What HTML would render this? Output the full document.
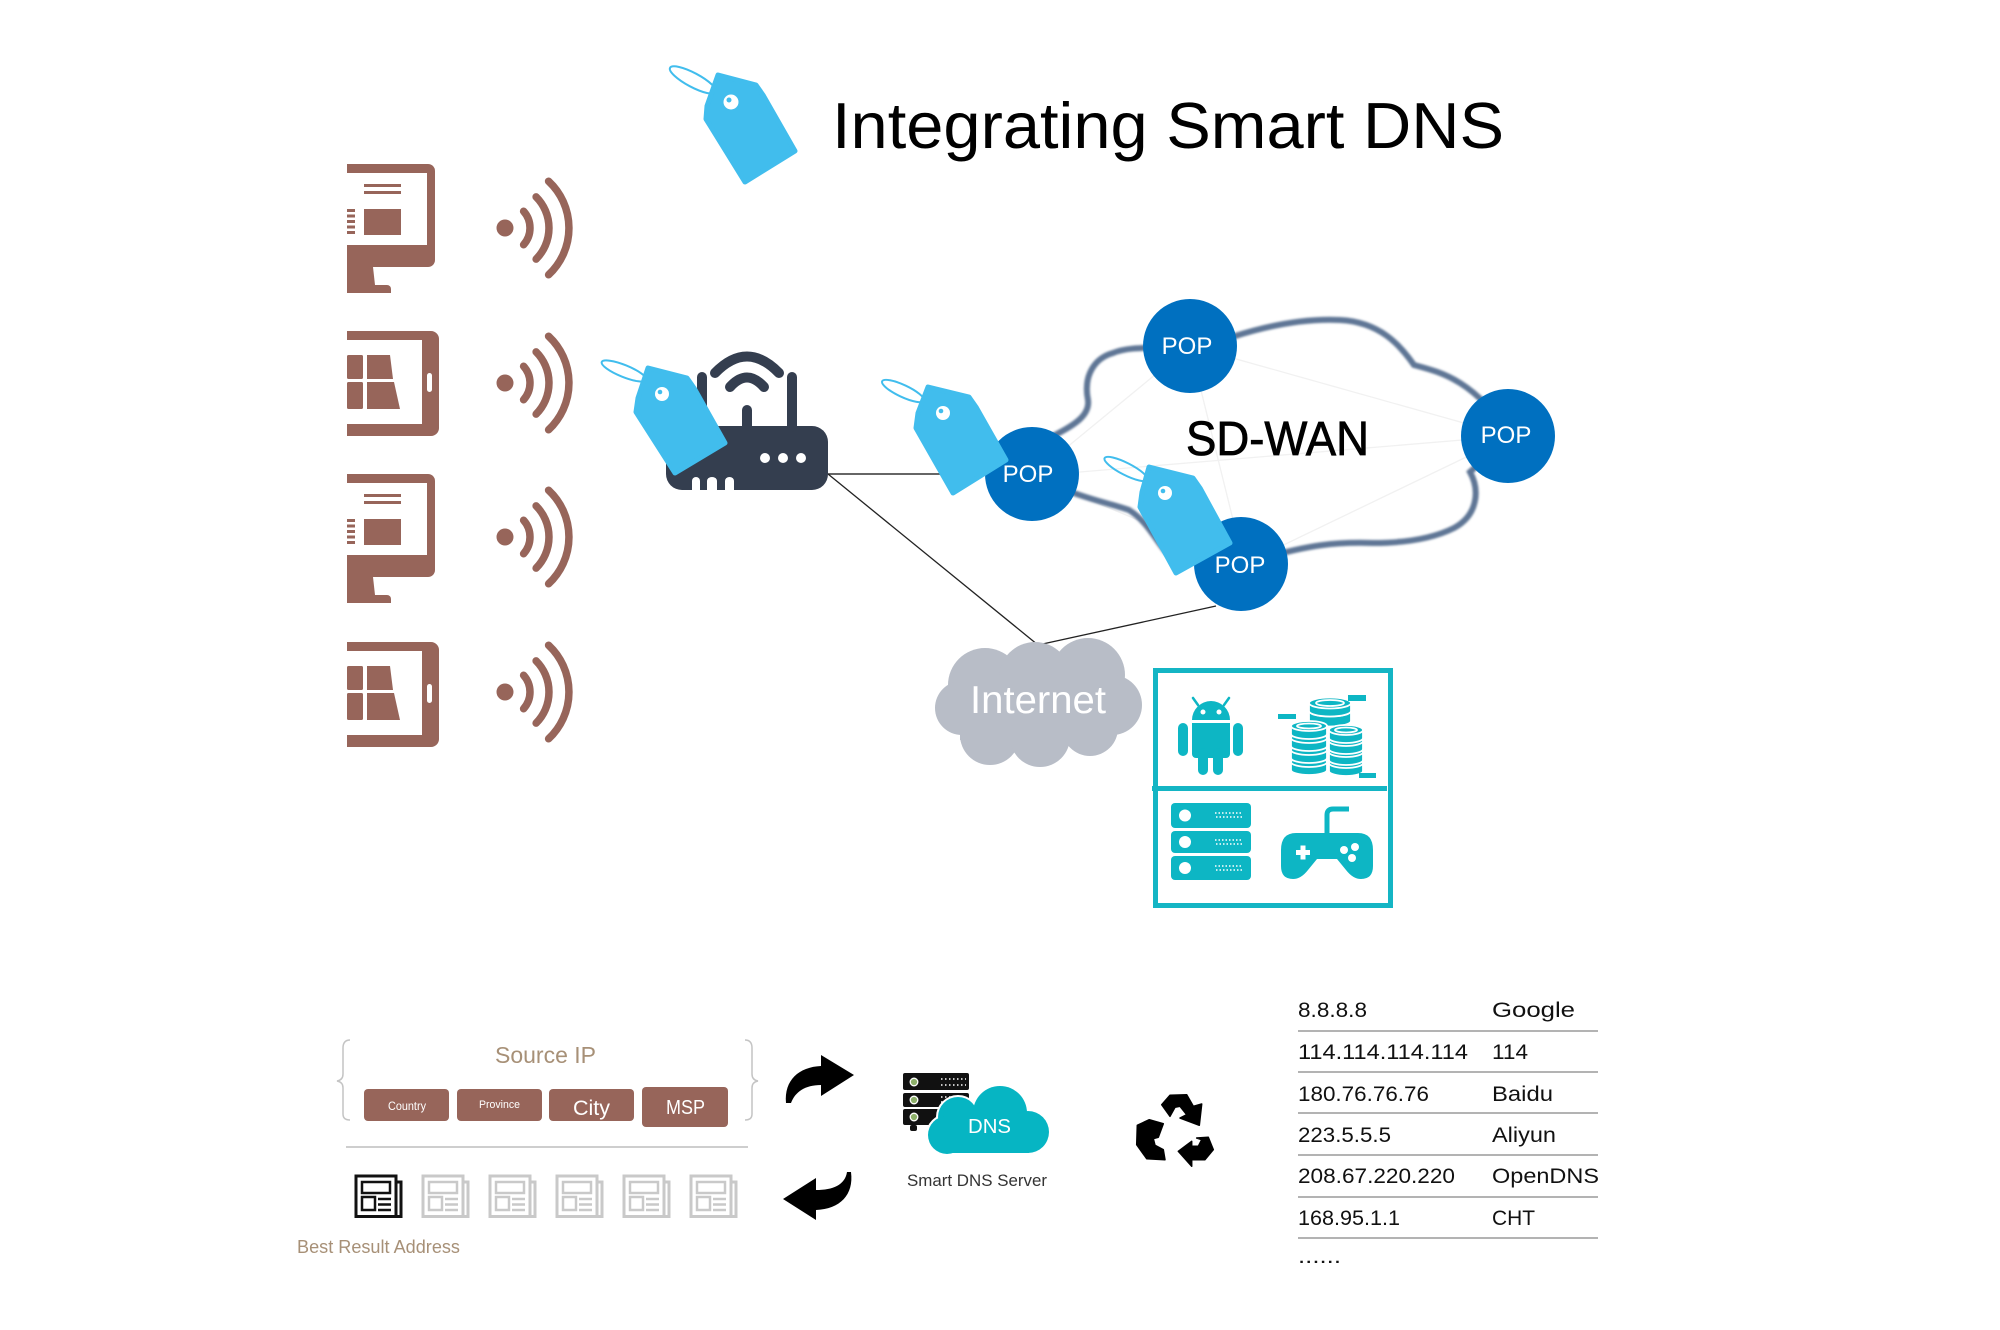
<!DOCTYPE html>
<html>
<head>
<meta charset="utf-8">
<style>
html,body{margin:0;padding:0;background:#fff;}
svg{display:block;}
text{font-family:"Liberation Sans",sans-serif;}
</style>
</head>
<body>
<svg xmlns="http://www.w3.org/2000/svg" xmlns:xlink="http://www.w3.org/1999/xlink" width="2000" height="1330" viewBox="0 0 2000 1330">
<defs>
  <filter id="soft" x="-10%" y="-10%" width="120%" height="120%"><feGaussianBlur stdDeviation="1"/></filter>
  <g id="mon" fill="#97655A">
    <path d="M347,0 H428 A7,7 0 0 1 435,7 V96 A7,7 0 0 1 428,103 H347 Z"/>
    <rect x="347" y="9" width="80" height="72" fill="#fff"/>
    <rect x="364" y="20" width="37" height="3"/>
    <rect x="364" y="27" width="37" height="3"/>
    <rect x="364" y="45" width="37" height="26"/>
    <rect x="347" y="45" width="8" height="3"/>
    <rect x="347" y="50.5" width="8" height="3"/>
    <rect x="347" y="56" width="8" height="3"/>
    <rect x="347" y="61.5" width="8" height="3"/>
    <rect x="347" y="67" width="8" height="3"/>
    <polygon points="347,103 373,103 375,121 347,121"/>
    <path d="M347,121 H387 A4,4 0 0 1 391,125 V129 H347 Z"/>
  </g>
  <g id="tab" fill="#97655A">
    <path d="M347,0 H431 A8,8 0 0 1 439,8 V97 A8,8 0 0 1 431,105 H347 Z"/>
    <rect x="347" y="9" width="75" height="84" fill="#fff"/>
    <rect x="427" y="42" width="5" height="19" rx="2.5" fill="#fff"/>
    <rect x="347" y="24" width="16" height="24" rx="1.5"/>
    <polygon points="367,24 390,24 393,48 367,48"/>
    <rect x="347" y="51" width="16" height="27" rx="1.5"/>
    <polygon points="367,51 394,51 400,78 367,78"/>
  </g>
  <g id="wifi" fill="none" stroke="#97655A" stroke-width="7.5" stroke-linecap="round">
    <circle cx="505" cy="0" r="8.5" fill="#97655A" stroke="none"/>
    <path d="M523.6,-16.7 A25,25 0 0 1 523.6,16.7"/>
    <path d="M536.1,-31.1 A44,44 0 0 1 536.1,31.1"/>
    <path d="M548.6,-46.8 A64,64 0 0 1 548.6,46.8"/>
  </g>
  <g id="news" fill="none" stroke-width="3">
    <path d="M356,1176 H396 V1216.5 H356 Z M396,1182 H401 V1216.5 H396"/>
    <rect x="362" y="1182" width="28" height="11" stroke-width="2.5"/>
    <rect x="362" y="1197" width="13" height="13" stroke-width="2.5"/>
    <line x1="378" y1="1199" x2="391" y2="1199" stroke-width="2.5"/>
    <line x1="378" y1="1204.5" x2="391" y2="1204.5" stroke-width="2.5"/>
    <line x1="378" y1="1210" x2="391" y2="1210" stroke-width="2.5"/>
  </g>
</defs>

<!-- Title -->
<text x="832" y="148" font-size="65" fill="#000" textLength="672" lengthAdjust="spacingAndGlyphs">Integrating Smart DNS</text>

<!-- Title tag -->
<ellipse cx="693" cy="80" rx="26" ry="7" transform="rotate(28 693 80)" fill="none" stroke="#41BDED" stroke-width="2"/>
<polygon points="718,75 756,85 763,95 795,151 745,182 706,119 707,106" fill="#41BDED" stroke="#41BDED" stroke-width="5" stroke-linejoin="round"/>
<circle cx="731" cy="102" r="7.5" fill="#fff"/>
<circle cx="729" cy="100" r="2.5" fill="#41BDED"/>

<!-- Devices -->
<use xlink:href="#mon" transform="translate(0,164)"/>
<use xlink:href="#tab" transform="translate(0,331)"/>
<use xlink:href="#mon" transform="translate(0,474)"/>
<use xlink:href="#tab" transform="translate(0,642)"/>
<use xlink:href="#wifi" transform="translate(0,228)"/>
<use xlink:href="#wifi" transform="translate(0,383)"/>
<use xlink:href="#wifi" transform="translate(0,537)"/>
<use xlink:href="#wifi" transform="translate(0,692)"/>

<!-- faint lines in cloud -->
<g stroke="#f1f1f1" stroke-width="1.3" fill="none">
  <line x1="1032" y1="476" x2="1190" y2="346"/>
  <line x1="1032" y1="476" x2="1510" y2="436"/>
  <line x1="1032" y1="476" x2="1244" y2="564"/>
  <line x1="1190" y1="346" x2="1244" y2="564"/>
  <line x1="1190" y1="346" x2="1510" y2="436"/>
  <line x1="1244" y1="564" x2="1510" y2="436"/>
</g>

<!-- SD-WAN cloud outline -->
<path d="M1032,476 L1053,436 C1075,425 1090,415 1088,400 C1083,375 1095,358 1113,353 C1125,348 1135,348 1190,346 L1232,337 C1260,328 1300,318 1340,320 C1380,322 1400,345 1414,365 C1440,372 1475,380 1510,436 L1470,472 C1480,490 1478,515 1454,528 C1430,540 1400,543 1373,543 C1340,542 1310,543 1244,564 L1167,553 C1155,540 1148,522 1129,510 C1110,503 1085,500 1032,476 Z" fill="none" stroke="#5E7695" stroke-width="6" filter="url(#soft)"/>

<!-- connectors -->
<line x1="828" y1="474" x2="990" y2="474" stroke="#333" stroke-width="1.5"/>
<line x1="828" y1="474" x2="1038" y2="645" stroke="#222" stroke-width="1.3"/>
<line x1="1038" y1="645" x2="1216" y2="606" stroke="#222" stroke-width="1.3"/>

<!-- POPs -->
<g fill="#0070C0">
  <circle cx="1190" cy="346" r="47"/>
  <circle cx="1032" cy="474" r="47"/>
  <circle cx="1508" cy="436" r="47"/>
  <circle cx="1241" cy="564" r="47"/>
</g>

<!-- Router -->
<g fill="#343E4F">
  <rect x="666" y="426" width="162" height="64" rx="16"/>
  <rect x="697" y="372" width="10" height="60" rx="5"/>
  <rect x="787" y="372" width="10" height="60" rx="5"/>
  <rect x="742" y="405" width="10" height="26" rx="5"/>
</g>
<g fill="none" stroke="#343E4F" stroke-width="10" stroke-linecap="round">
  <path d="M715,373 Q747,340 779,373"/>
  <path d="M730,387 Q747,368 764,387"/>
</g>
<g fill="#fff">
  <circle cx="765" cy="458" r="5"/>
  <circle cx="783" cy="458" r="5"/>
  <circle cx="801" cy="458" r="5"/>
  <path d="M692,490 V481 A4,4 0 0 1 700,481 V490 Z"/>
  <path d="M707,490 V481 A5,4 0 0 1 717,481 V490 Z"/>
  <path d="M725,490 V481 A4.5,4 0 0 1 734,481 V490 Z"/>
</g>

<!-- Router tag -->
<ellipse cx="624" cy="371" rx="24" ry="6" transform="rotate(22 624 371)" fill="none" stroke="#41BDED" stroke-width="2"/>
<polygon points="648,368 687,378 694,388 725,443 675,473 636,412 638,398" fill="#41BDED" stroke="#41BDED" stroke-width="5" stroke-linejoin="round"/>
<circle cx="662" cy="394" r="7" fill="#fff"/>
<circle cx="660" cy="392" r="2.3" fill="#41BDED"/>

<!-- Left POP tag -->
<ellipse cx="903" cy="391" rx="23" ry="6" transform="rotate(25 903 391)" fill="none" stroke="#41BDED" stroke-width="2"/>
<polygon points="928,387 969,397 976,407 1006,460 953,493 916,428 918,413" fill="#41BDED" stroke="#41BDED" stroke-width="5" stroke-linejoin="round"/>
<circle cx="943" cy="413" r="7" fill="#fff"/>
<circle cx="941" cy="411" r="2.3" fill="#41BDED"/>

<!-- Bottom POP tag -->
<ellipse cx="1126" cy="469" rx="24" ry="6" transform="rotate(27 1126 469)" fill="none" stroke="#41BDED" stroke-width="2"/>
<polygon points="1149,467 1193,478 1200,488 1230,543 1176,573 1140,507 1142,492" fill="#41BDED" stroke="#41BDED" stroke-width="5" stroke-linejoin="round"/>
<circle cx="1165" cy="493" r="7" fill="#fff"/>
<circle cx="1163" cy="491" r="2.3" fill="#41BDED"/>

<!-- POP labels -->
<g fill="#fff" font-size="24" text-anchor="middle">
  <text x="1187" y="354">POP</text>
  <text x="1028" y="482">POP</text>
  <text x="1506" y="443">POP</text>
  <text x="1240" y="573">POP</text>
</g>

<!-- SD-WAN -->
<text x="1186" y="455" font-size="48" fill="#000" stroke="#000" stroke-width="0.8" textLength="183" lengthAdjust="spacingAndGlyphs">SD-WAN</text>

<!-- Internet cloud -->
<g fill="#B8BDC7">
  <circle cx="985" cy="685" r="37"/>
  <circle cx="1035" cy="678" r="36"/>
  <circle cx="1088" cy="675" r="37"/>
  <circle cx="1112" cy="705" r="30"/>
  <circle cx="962" cy="708" r="27"/>
  <circle cx="990" cy="735" r="30"/>
  <circle cx="1040" cy="737" r="30"/>
  <circle cx="1090" cy="728" r="28"/>
  <rect x="960" y="675" width="150" height="65"/>
</g>
<text x="970" y="713" font-size="39" fill="#fff" textLength="136" lengthAdjust="spacingAndGlyphs">Internet</text>

<!-- App box -->
<rect x="1155.5" y="670.5" width="235" height="235" fill="none" stroke="#14B5C4" stroke-width="5"/>
<rect x="1152" y="786" width="235" height="5" fill="#14B5C4"/>
<!-- android -->
<g fill="#0DB6C4">
  <path d="M1192,720 A19,19 0 0 1 1230,720 Z"/>
  <line x1="1198" y1="705" x2="1193" y2="698" stroke="#0DB6C4" stroke-width="2.5" stroke-linecap="round"/>
  <line x1="1224" y1="705" x2="1229" y2="698" stroke="#0DB6C4" stroke-width="2.5" stroke-linecap="round"/>
  <path d="M1192,723 H1230 V754 A4,4 0 0 1 1226,758 H1196 A4,4 0 0 1 1192,754 Z"/>
  <rect x="1178" y="723" width="10" height="33" rx="5"/>
  <rect x="1233" y="723" width="10" height="33" rx="5"/>
  <rect x="1198" y="748" width="10" height="27" rx="5"/>
  <rect x="1213" y="748" width="10" height="27" rx="5"/>
  <circle cx="1203" cy="712" r="2.5" fill="#fff"/>
  <circle cx="1219" cy="712" r="2.5" fill="#fff"/>
</g>
<!-- coins -->
<g fill="#0DB6C4" stroke="#fff" stroke-width="1.8">
  <path d="M1309,711 v10 a21,5.5 0 0 0 42,0 v-10 z"/>
  <ellipse cx="1330" cy="711" rx="21" ry="5.5"/>
  <path d="M1309,703 v8 a21,5.5 0 0 0 42,0 v-8 z"/>
  <ellipse cx="1330" cy="703" rx="21" ry="5.5"/>
  <ellipse cx="1330" cy="703" rx="14" ry="3" fill="none"/>

  <path d="M1291,762 v8 a18,5 0 0 0 36,0 v-8 z"/>
  <ellipse cx="1309" cy="762" rx="18" ry="5"/>
  <path d="M1291,750 v8 a18,5 0 0 0 36,0 v-8 z"/>
  <ellipse cx="1309" cy="750" rx="18" ry="5"/>
  <path d="M1291,738 v8 a18,5 0 0 0 36,0 v-8 z"/>
  <ellipse cx="1309" cy="738" rx="18" ry="5"/>
  <path d="M1291,726 v8 a18,5 0 0 0 36,0 v-8 z"/>
  <ellipse cx="1309" cy="726" rx="18" ry="5"/>
  <ellipse cx="1309" cy="726" rx="12" ry="2.5" fill="none"/>

  <path d="M1329,763 v8 a17,5 0 0 0 34,0 v-8 z"/>
  <ellipse cx="1346" cy="763" rx="17" ry="5"/>
  <path d="M1329,752 v8 a17,5 0 0 0 34,0 v-8 z"/>
  <ellipse cx="1346" cy="752" rx="17" ry="5"/>
  <path d="M1329,741 v8 a17,5 0 0 0 34,0 v-8 z"/>
  <ellipse cx="1346" cy="741" rx="17" ry="5"/>
  <path d="M1329,730 v8 a17,5 0 0 0 34,0 v-8 z"/>
  <ellipse cx="1346" cy="730" rx="17" ry="5"/>
  <ellipse cx="1346" cy="730" rx="11" ry="2.5" fill="none"/>
</g>
<g fill="#0DB6C4">
  <rect x="1278" y="714" width="18" height="5"/>
  <rect x="1348" y="695" width="18" height="6"/>
  <rect x="1359" y="773" width="17" height="5"/>
</g>
<!-- servers -->
<g fill="#0DB6C4">
  <rect x="1171" y="803" width="80" height="25" rx="4"/>
  <rect x="1171" y="831" width="80" height="22" rx="4"/>
  <rect x="1171" y="856" width="80" height="24" rx="4"/>
</g>
<g fill="#fff">
  <circle cx="1185" cy="815.5" r="6"/>
  <circle cx="1185" cy="842" r="6"/>
  <circle cx="1185" cy="868" r="6"/>
</g>
<g stroke="#fff" stroke-width="1.5" stroke-dasharray="1.5 2" fill="none">
  <line x1="1215" y1="813" x2="1242" y2="813"/>
  <line x1="1216" y1="817" x2="1242" y2="817"/>
  <line x1="1215" y1="840" x2="1242" y2="840"/>
  <line x1="1216" y1="844" x2="1242" y2="844"/>
  <line x1="1215" y1="866" x2="1242" y2="866"/>
  <line x1="1216" y1="870" x2="1242" y2="870"/>
</g>
<!-- gamepad -->
<path d="M1296,833 H1358 Q1373,833 1373,850 V866 Q1373,879 1361,879 Q1353,879 1346,870 L1337,859 H1317 L1308,870 Q1301,879 1293,879 Q1281,879 1281,866 V850 Q1281,833 1296,833 Z" fill="#0DB6C4"/>
<path d="M1327,834 V815 Q1327,809 1333,809 H1349" fill="none" stroke="#0DB6C4" stroke-width="5"/>
<g fill="#fff">
  <rect x="1296" y="850" width="14" height="5"/>
  <rect x="1300.5" y="845.5" width="5" height="14"/>
  <circle cx="1344" cy="850" r="4"/>
  <circle cx="1355" cy="847" r="4"/>
  <circle cx="1352" cy="858" r="4"/>
</g>

<!-- Source IP section -->
<g fill="none" stroke="#c4c4c4" stroke-width="1.5">
  <path d="M350,1040 Q343,1040 343,1048 V1074 Q343,1080 337,1081 Q343,1082 343,1088 V1114 Q343,1120 350,1120"/>
  <path d="M745,1040 Q752,1040 752,1048 V1074 Q752,1080 758,1081 Q752,1082 752,1088 V1114 Q752,1120 745,1120"/>
</g>
<text x="495" y="1063" font-size="23" fill="#A79077" textLength="101" lengthAdjust="spacingAndGlyphs">Source IP</text>
<g fill="#97655A">
  <rect x="364" y="1089" width="85" height="32" rx="4"/>
  <rect x="457" y="1089" width="85" height="32" rx="4"/>
  <rect x="549" y="1089" width="85" height="32" rx="4"/>
  <rect x="642" y="1087" width="86" height="40" rx="4"/>
</g>
<g fill="#fff">
  <text x="388" y="1110" font-size="12" textLength="38" lengthAdjust="spacingAndGlyphs">Country</text>
  <text x="479" y="1108" font-size="11" textLength="41" lengthAdjust="spacingAndGlyphs">Province</text>
  <text x="573" y="1115" font-size="21" textLength="37" lengthAdjust="spacingAndGlyphs">City</text>
  <text x="666" y="1114" font-size="20" textLength="39" lengthAdjust="spacingAndGlyphs">MSP</text>
</g>
<line x1="346" y1="1147" x2="748" y2="1147" stroke="#bdbdbd" stroke-width="1.5"/>
<use xlink:href="#news" stroke="#111"/>
<use xlink:href="#news" stroke="#c9c9c9" transform="translate(67,0)"/>
<use xlink:href="#news" stroke="#c9c9c9" transform="translate(134,0)"/>
<use xlink:href="#news" stroke="#c9c9c9" transform="translate(201,0)"/>
<use xlink:href="#news" stroke="#c9c9c9" transform="translate(268,0)"/>
<use xlink:href="#news" stroke="#c9c9c9" transform="translate(335,0)"/>
<text x="297" y="1253" font-size="18" fill="#A79077" textLength="163" lengthAdjust="spacingAndGlyphs">Best Result Address</text>

<!-- curved arrows -->
<path d="M786,1103 C784,1080 799,1067 821,1066 L821,1055 L854,1075 L821,1096 L821,1085 C805,1085 795,1092 791,1103 Z" fill="#000"/>
<path d="M851,1172 C854,1195 840,1209 816,1210 L816,1220 L783,1199 L816,1178 L816,1190 C833,1190 845,1185 847,1172 Z" fill="#000"/>

<!-- DNS server icon -->
<g fill="#111">
  <rect x="903" y="1073" width="66" height="17" rx="2"/>
  <rect x="903" y="1093" width="66" height="14" rx="2"/>
  <rect x="903" y="1109" width="66" height="16" rx="2"/>
  <rect x="910" y="1125" width="7" height="6" rx="2"/>
</g>
<g fill="#8DB06A" stroke="#fff" stroke-width="1.3">
  <circle cx="914" cy="1082" r="3.8"/>
  <circle cx="914" cy="1100" r="3.8"/>
  <circle cx="914" cy="1117" r="3.8"/>
</g>
<g stroke="#fff" stroke-width="1.5" stroke-dasharray="1.5 2.5">
  <line x1="941" y1="1079" x2="966" y2="1079"/>
  <line x1="941" y1="1085" x2="966" y2="1085"/>
  <line x1="941" y1="1097" x2="952" y2="1097"/>
  <line x1="941" y1="1102" x2="952" y2="1102"/>
</g>
<g fill="#06B5C3" stroke="#fff" stroke-width="4">
  <circle cx="1000" cy="1113" r="27"/>
  <circle cx="958" cy="1117" r="20"/>
  <circle cx="1028" cy="1132" r="21"/>
  <circle cx="947" cy="1135" r="19"/>
</g>
<g fill="#06B5C3">
  <circle cx="1000" cy="1113" r="27"/>
  <circle cx="958" cy="1117" r="20"/>
  <circle cx="1028" cy="1132" r="21"/>
  <circle cx="947" cy="1135" r="19"/>
  <rect x="947" y="1115" width="82" height="38"/>
</g>
<text x="968" y="1133" font-size="20" fill="#fff" textLength="43" lengthAdjust="spacingAndGlyphs">DNS</text>
<text x="907" y="1186" font-size="17" fill="#333" textLength="140" lengthAdjust="spacingAndGlyphs">Smart DNS Server</text>

<!-- recycle -->
<g fill="#000" stroke="#000" stroke-width="1.5" stroke-linejoin="round">
  <polygon points="1161.7,1104.7 1170,1095.3 1186.7,1094.7 1193.3,1106.3 1201.7,1104 1199.3,1125.3 1180,1118 1186.7,1114.7 1180,1106.3 1175,1107.3 1170,1116.3"/>
  <polygon points="1137.3,1125.3 1149.3,1119.7 1163.3,1123.7 1158.3,1137.3 1153.3,1138.7 1155,1145.3 1163.3,1149.7 1165,1159.7 1146.7,1158.7 1136.7,1144.7"/>
  <polygon points="1178.3,1151.3 1191.7,1141.3 1191.7,1146.3 1198.3,1146.3 1201.7,1139.7 1196.7,1138 1208.3,1137.3 1213.3,1149.7 1205,1159.7 1191.7,1159.7 1191.7,1166.3"/>
</g>

<!-- table -->
<g font-size="21" fill="#111">
  <text x="1298" y="1017" textLength="69" lengthAdjust="spacingAndGlyphs">8.8.8.8</text>
  <text x="1492" y="1017" textLength="83" lengthAdjust="spacingAndGlyphs">Google</text>
  <text x="1298" y="1059" textLength="170" lengthAdjust="spacingAndGlyphs">114.114.114.114</text>
  <text x="1492" y="1059" textLength="36" lengthAdjust="spacingAndGlyphs">114</text>
  <text x="1298" y="1101" textLength="131" lengthAdjust="spacingAndGlyphs">180.76.76.76</text>
  <text x="1492" y="1101" textLength="61" lengthAdjust="spacingAndGlyphs">Baidu</text>
  <text x="1298" y="1142" textLength="93" lengthAdjust="spacingAndGlyphs">223.5.5.5</text>
  <text x="1492" y="1142" textLength="64" lengthAdjust="spacingAndGlyphs">Aliyun</text>
  <text x="1298" y="1183" textLength="157" lengthAdjust="spacingAndGlyphs">208.67.220.220</text>
  <text x="1492" y="1183" textLength="107" lengthAdjust="spacingAndGlyphs">OpenDNS</text>
  <text x="1298" y="1225" textLength="102" lengthAdjust="spacingAndGlyphs">168.95.1.1</text>
  <text x="1492" y="1225" textLength="43" lengthAdjust="spacingAndGlyphs">CHT</text>
  <text x="1298" y="1263" textLength="43" lengthAdjust="spacingAndGlyphs">......</text>
</g>
<g stroke="#9a9a9a" stroke-width="1.5">
  <line x1="1298" y1="1031" x2="1598" y2="1031"/>
  <line x1="1298" y1="1072" x2="1598" y2="1072"/>
  <line x1="1298" y1="1113" x2="1598" y2="1113"/>
  <line x1="1298" y1="1155" x2="1598" y2="1155"/>
  <line x1="1298" y1="1197" x2="1598" y2="1197"/>
  <line x1="1298" y1="1238" x2="1598" y2="1238"/>
</g>
</svg>
</body>
</html>
